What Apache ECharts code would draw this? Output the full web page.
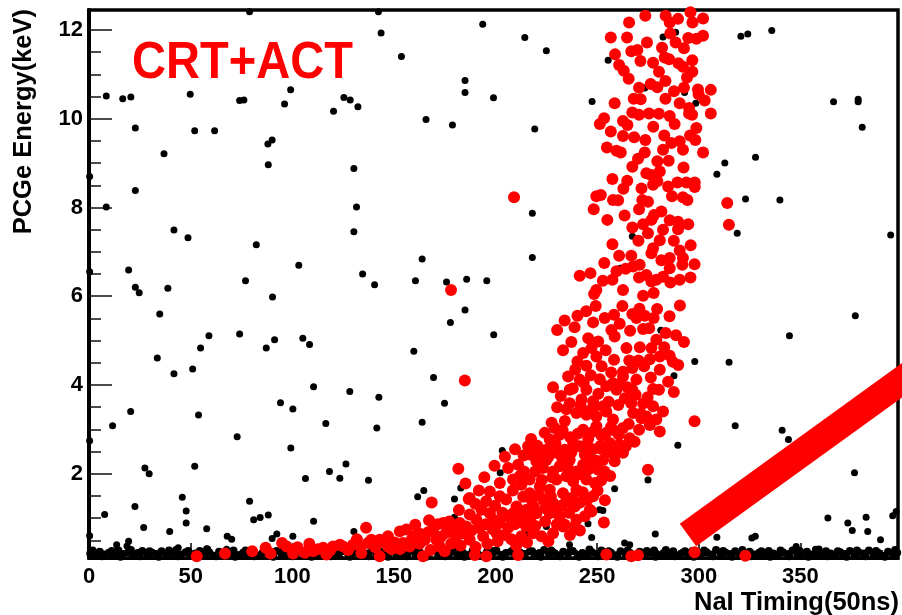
<!DOCTYPE html>
<html>
<head>
<meta charset="utf-8">
<script src="https://cdn.jsdelivr.net/npm/echarts@6/dist/echarts.min.js"></script>
<style>
  html, body { margin: 0; padding: 0; background: #fff; }
  #chart { width: 902px; height: 615px; }
</style>
</head>
<body>
<div id="chart"></div>
<script>
// Axis ticks
const xMajorTicks = [0, 50, 100, 150, 200, 250, 300, 350];
const xMinorTicks = [10, 20, 30, 40, 60, 70, 80, 90, 110, 120, 130, 140, 160, 170, 180, 190,
  210, 220, 230, 240, 260, 270, 280, 290, 310, 320, 330, 340, 360, 370, 380, 390];
const yMajorTicks = [2, 4, 6, 8, 10, 12];
const yMinorTicks = [0.5, 1, 1.5, 2.5, 3, 3.5, 4.5, 5, 5.5, 6.5, 7, 7.5, 8.5, 9, 9.5, 10.5, 11, 11.5];

// Uncorrelated events scattered over the whole plane (timing, energy)
const scatteredEvents = [
  [8.5,10.51],[16.6,10.45],[20.6,10.49],[49.8,10.55],[74.1,10.41],[76.2,10.42],[96.2,10.33],[22.8,9.79],
  [52,9.73],[61.8,9.73],[36.9,9.21],[88,9.43],[90.1,9.52],[88.2,8.96],[0.3,8.70],[22.8,8.38],[8.5,8.01],
  [41.8,7.49],[48.7,7.32],[82.3,7.16],[0.3,6.55],[19.5,6.59],[22.8,6.20],[38.8,6.18],[77,6.35],[79,12.41],
  [24.7,6.08],[90.3,5.98],[34.8,5.60],[59,5.11],[74.1,5.15],[54.9,4.83],[87.2,4.83],[91.3,5.02],[33.6,4.61],
  [41.8,4.25],[51,4.36],[94.2,3.60],[20.5,3.40],[11.6,3.08],[53.9,3.32],[0.3,2.74],[72.9,2.83],[27.5,2.13],
  [29.6,2.0],[52,2.17],[7.7,1.08],[22.6,1.26],[45.9,1.47],[47.8,1.16],[47.8,0.89],[26.9,0.79],[39.7,0.70],
  [57.9,0.76],[79,1.38],[81,0.96],[84.2,1.01],[88.2,1.07],[0.3,0.60],[13.6,0.40],[19.5,0.48],[18.7,0.37],
  [68,0.59],[70.2,0.52],[90.1,0.54],[92.4,0.64],
  [142.4,12.41],[143.7,11.93],[193.7,12.13],[153.7,11.40],[185,10.86],[185,10.59],[99.2,10.65],[125.4,10.48],
  [128.5,10.42],[132.3,10.27],[120.3,10.17],[165.8,9.98],[178.8,9.86],[130.3,8.88],[131.6,8.01],[130.3,7.45],
  [103.2,6.70],[163.9,6.84],[134.6,6.50],[140.5,6.26],[160.6,6.35],[175.9,6.32],[185.8,6.38],[195.7,6.35],
  [185,5.69],[177.8,5.41],[105.2,5.05],[108.5,4.91],[159.8,4.76],[169.5,4.17],[110.5,3.96],[128.3,3.85],
  [142.6,3.72],[174.9,3.59],[100.3,3.46],[116.5,3.13],[141.6,3.03],[163.9,3.16],[99.3,2.58],[126.4,2.22],
  [118.3,2.05],[123.4,1.90],[106.5,1.89],[137.5,1.85],[161.7,1.48],[164.7,1.62],[182.9,1.68],[179.8,1.43],
  [179.8,1.02],[110.5,0.93],[100.3,0.59],[130.3,0.70],[129.6,0.44],[203.3,2.52],[202.3,2.02],[216,0.66],
  [225,0.81],[236.4,0.40],[245.5,0.87],[247.3,0.56],[251.2,1.19],
  [214.4,11.83],[225,11.53],[199,10.47],[255.4,11.32],[282.4,11.84],[288.6,11.95],[247.5,10.39],[273.4,10.69],
  [293,10.59],[298.5,10.35],[219.3,9.77],[218.1,7.87],[267.3,7.35],[218.1,6.87],[261.4,6.63],
  [199.1,5.13],[265.5,5.21],[281.3,5.23],[298,4.53],[314.9,4.51],[287.8,4.21],
  [320.7,11.86],[324.1,11.91],[335.9,11.99],[366.3,10.38],[378.4,10.44],[378.4,10.38],[380.4,9.81],[327.9,9.13],
  [312.8,9.0],[308.9,8.75],[323,8.19],[339.9,8.17],[318.9,7.42],[394.4,7.38],[377,5.56],[344.6,5.11],
  [317.9,3.08],[341,2.98],[344.1,2.77],[289.7,2.64],[275,1.86],[376.6,2.02],[363.5,1.0],[373.3,0.89],
  [375.5,0.72],[382.3,1.02],[383.1,0.70],[389.4,0.51],[395.4,1.05],[397.1,1.15],[278.6,0.64],[263.5,0.44],
  [266,0.40],[308.9,0.57],[326.1,0.55],[327.8,0.59],[347.9,0.36],[357.4,0.30],[258.6,1.66],[252.8,1.17],
  [266.5,2.73],[43.9,0.33],[57.9,0.31],[67.7,0.30]
];

// Low-energy noise events piling up along the threshold
const thresholdEvents = [
  [0.6,0.20],[2.9,0.16],[5.3,0.24],[7.4,0.18],[9.8,0.22],[12.1,0.15],[14.5,0.27],[16.8,0.19],[19.3,0.23],
  [21.5,0.16],[24.0,0.21],[26.2,0.26],[28.7,0.17],[31.0,0.22],[33.4,0.19],[35.7,0.25],[38.1,0.15],[40.4,0.21],
  [42.9,0.28],[45.1,0.18],[47.6,0.23],[49.8,0.16],[52.3,0.20],[54.5,0.26],[57.0,0.19],[59.3,0.22],[61.7,0.15],
  [64.0,0.24],[66.4,0.18],[68.7,0.21],[71.1,0.27],[73.4,0.17],[75.8,0.22],[78.1,0.19],[80.6,0.25],[82.8,0.16],
  [85.3,0.21],[87.5,0.23],[90.0,0.17],[92.2,0.26],[94.7,0.20],[97.0,0.15],[99.4,0.22],[101.7,0.19],[104.1,0.25],
  [106.4,0.17],[108.8,0.21],[111.1,0.27],[113.5,0.16],[115.8,0.23],[118.2,0.19],[120.5,0.22],[122.9,0.15],
  [125.2,0.26],[127.6,0.18],[129.9,0.21],[132.3,0.24],[134.6,0.16],[137.0,0.20],[139.3,0.27],[141.7,0.18],
  [144.0,0.22],[146.4,0.15],[148.7,0.25],[151.1,0.19],[153.4,0.21],[155.8,0.17],[158.1,0.26],[160.5,0.20],
  [162.8,0.23],[165.2,0.16],[167.5,0.22],[169.9,0.28],[172.2,0.18],[174.6,0.21],[176.9,0.15],[179.3,0.24],
  [181.6,0.19],[184.0,0.22],[186.3,0.17],[188.7,0.26],[191.0,0.20],[193.4,0.15],[195.7,0.23],[198.1,0.19],
  [200.4,0.27],[202.8,0.17],[205.1,0.21],[207.5,0.24],[209.8,0.16],[212.2,0.22],[214.5,0.19],[216.9,0.25],
  [219.2,0.15],[221.6,0.21],[223.9,0.28],[226.3,0.18],[228.6,0.22],[231.0,0.16],[233.3,0.24],[235.7,0.20],
  [238.0,0.26],[240.4,0.17],[242.7,0.21],[245.1,0.15],[247.4,0.23],[249.8,0.19],[252.1,0.27],[254.5,0.18],
  [256.8,0.22],[259.2,0.16],[261.5,0.25],[263.9,0.20],[266.2,0.21],[268.6,0.15],[270.9,0.24],[273.3,0.18],
  [275.6,0.22],[278.0,0.27],[280.3,0.17],[282.7,0.21],[285.0,0.19],[287.4,0.25],[289.7,0.16],[292.1,0.22],
  [294.4,0.20],[296.8,0.26],[299.1,0.15],[301.5,0.21],[303.8,0.23],[306.2,0.18],[308.5,0.28],[310.9,0.17],
  [313.2,0.22],[315.6,0.19],[317.9,0.25],[320.3,0.16],[322.6,0.21],[325.0,0.24],[327.3,0.18],[329.7,0.22],
  [332.0,0.15],[334.4,0.26],[336.7,0.20],[339.1,0.17],[341.4,0.23],[343.8,0.19],[346.1,0.27],[348.5,0.16],
  [350.8,0.21],[353.2,0.24],[355.5,0.18],[357.9,0.22],[360.2,0.15],[362.6,0.25],[364.9,0.20],[367.3,0.17],
  [369.6,0.23],[372.0,0.19],[374.3,0.26],[376.7,0.16],[379.0,0.22],[381.4,0.20],[383.7,0.27],[386.1,0.18],
  [388.4,0.21],[390.8,0.15],[393.1,0.24],[395.5,0.19],[397.6,0.22],
  [1.8,0.27],[6.4,0.14],[11.2,0.26],[15.5,0.13],[20.6,0.28],[24.9,0.14],[29.8,0.25],[34.3,0.13],[39.4,0.27],
  [43.7,0.14],[48.8,0.26],[53.1,0.13],[58.2,0.29],[62.5,0.14],[67.6,0.25],[71.9,0.13],[77.0,0.27],[81.3,0.14],
  [86.4,0.26],[90.7,0.13],[95.8,0.28],[100.1,0.14],[105.2,0.25],[109.5,0.13],[114.6,0.27],[118.9,0.14],
  [124.0,0.26],[128.3,0.13],[133.4,0.29],[137.7,0.14],[142.8,0.25],[147.1,0.13],[152.2,0.27],[156.5,0.14],
  [161.6,0.26],[165.9,0.13],[171.0,0.28],[175.3,0.14],[180.4,0.25],[184.7,0.13],[189.8,0.27],[194.1,0.14],
  [199.2,0.26],[203.5,0.13],[208.6,0.28],[212.9,0.14],[218.0,0.25],[222.3,0.13],[227.4,0.27],[231.7,0.14],
  [236.8,0.26],[241.1,0.13],[246.2,0.29],[250.5,0.14],[255.6,0.25],[259.9,0.13],[265.0,0.27],[269.3,0.14],
  [274.4,0.26],[278.7,0.13],[283.8,0.28],[288.1,0.14],[293.2,0.25],[297.5,0.13],[302.6,0.27],[306.9,0.14],
  [312.0,0.26],[316.3,0.13],[321.4,0.28],[325.7,0.14],[330.8,0.25],[335.1,0.13],[340.2,0.27],[344.5,0.14],
  [349.6,0.26],[353.9,0.13],[359.0,0.29],[363.3,0.14],[368.4,0.25],[372.7,0.13],[377.8,0.27],[382.1,0.14],
  [387.2,0.26],[391.5,0.13],[396.6,0.28]
];

// Events tagged by both cosmic-ray and anti-Compton vetoes
const vetoTaggedEvents = [
  [53.0,0.14],[66.9,0.20],[80.3,0.25],[86.9,0.33],[89.3,0.20],[95.0,0.44],[97.2,0.36],[100.4,0.20],
  [106.2,0.22],[110.3,0.25],[115.2,0.33],[116.8,0.18],[120.1,0.36],[123.4,0.40],[125.0,0.36],[129.9,0.40],
  [134.0,0.21],[137.3,0.44],[138.9,0.51],[143.0,0.51],[143.0,0.14],[147.1,0.59],[147.1,0.36],[152.9,0.70],
  [154.5,0.44],[156.1,0.74],[157.8,0.36],[160.2,0.59],[161.9,0.67],[164.3,0.14],[165.2,0.51],[169.3,0.74],
  [170.9,0.51],[174.2,0.89],[175.0,0.25],[175.8,0.67],[172.5,0.36],
  [136.3,0.78],[168.6,1.35],[178.1,6.14],[184.9,4.10],[181.7,2.11],[186.8,1.43],[209.1,8.23],
  [189.8,0.17],[195.5,0.14],[211.1,0.17],[254.5,0.18],[266.8,0.14],[270.1,0.16],[297.9,0.23],[322.9,0.15],
  [297.9,3.18],[275.0,2.09],[253.3,0.90],[314,8.10],[314.8,7.61],
  [295.9,12.40],[283.7,12.32],[273.7,12.32],[265.7,12.17],[285.7,12.17],[289.8,12.25],[296.9,12.17],[302.1,12.26],
  [256.7,11.83],[264.7,11.83],[286.0,11.92],[298.8,11.80],[302.1,11.87],[269.8,11.55],[281.9,11.60],[292.7,11.59],
  [271.3,11.30],[277.5,11.26],[283.2,11.38],[285.4,11.34],[290.0,11.25],[296.8,11.32],[260.8,11.21],[263.1,11.08],
  [280.4,11.06],[292.2,11.17],[296.8,11.06],[294.2,10.93],[265.5,10.90],[283.6,10.85],[270.6,10.70],[276.3,10.78],
  [279.6,10.71],[292.7,10.70],[299.6,10.66],[305.9,10.65],[299.9,10.55],[271.4,10.44],[283.6,10.45],[290.6,10.35],
  [295.2,10.24],[302.9,10.41],[305.9,10.12],[267.3,10.14],[270.6,10.09],[275.5,10.12],[280.4,10.11],[285.7,10.06],
  [288.1,9.88],[295.2,10.12],[296.7,10.09],[253.4,10.01],[251.3,9.88],[262.7,9.95],[264.9,9.86],[256.7,9.71],
  [262.7,9.61],[298.8,9.79],[298.3,9.52],[302.1,9.24],[273.7,9.52],[286.5,9.45],[290.6,9.49],[292.2,9.30],
  [282.4,9.30],[259.5,9.28],[261.6,9.24],[273.4,9.24],[279.6,9.04],[267.3,8.92],[257.5,8.64],[274.2,8.77],
  [276.7,8.73],[280.8,8.81],[279.6,8.59],[271.8,8.43],[277.5,8.51],[284.9,8.47],[289.5,8.56],[293.9,8.56],
  [298.0,8.56],[298.0,8.46],[251.8,8.28],[249.6,8.25],[257.8,8.17],[260.3,8.16],[272.2,8.17],[275.0,8.13],
  [270.6,7.96],[292.2,8.23],[294.4,8.17],[248.3,7.96],[278.0,7.83],[281.6,7.91],[276.7,7.72],[285.7,7.71],
  [289.8,7.68],[282.4,7.50],[289.8,7.51],[267.3,7.55],[280.8,7.26],[287.7,7.25],[257.5,7.17],[266.8,6.91],
  [276.7,6.97],[277.5,7.08],[260.8,6.91],[290.6,7.03],[292.2,6.86],[291.9,6.71],[281.6,6.81],[285.7,6.86],
  [267.7,6.67],[270.9,6.71],[285.7,6.63],[259.5,6.56],[241.4,6.46],[246.7,6.52],[270.6,6.42],[274.2,6.48],
  [276.7,6.33],[279.1,6.37],[282.4,6.44],[286.0,6.31],[290.6,6.37],[295.9,6.42],[257.5,6.37],[262.7,6.14],
  [249.6,6.14],[248.5,6.05],[272.6,6.01],[277.8,6.07],
  [249.3,5.78],[240.3,5.56],[248.0,5.41],[253.7,5.51],[258.3,5.58],[261.1,5.38],[257.0,5.24],[258.6,5.09],
  [267.3,5.60],[269.3,5.51],[273.4,5.56],[277.8,5.51],[279.5,5.71],[272.6,5.26],[283.7,5.17],[279.1,5.02],
  [276.7,4.83],[275.9,4.58],[280.8,4.64],[285.7,4.66],[292.7,4.97],[230.3,5.24],[237.3,4.97],[233.2,4.78],
  [243.1,4.72],[247.2,4.83],[254.2,4.78],[264.4,4.83],[240.3,4.53],[244.7,4.43],[249.6,4.64],[258.3,4.57],
  [267.3,4.38],[262.7,4.30],[273.1,4.42],[276.4,4.17],[280.8,4.34],[284.9,4.07],[287.7,3.84],[280.4,3.89],
  [277.5,3.91],[269.3,4.12],[267.3,3.89],[235.7,4.19],[236.5,3.89],[228.3,3.95],[241.4,4.12],[244.7,3.89],
  [251.3,4.13],[254.5,3.97],[257.8,4.04],[262.7,4.19],[259.5,3.89],[263.6,3.70],[266.8,3.59],[236.5,3.59],
  [242.3,3.67],[248.0,3.63],[239.8,3.37],[244.7,3.33],[248.0,3.48],[252.9,3.52],[230.3,3.50],[234.1,3.19],
  [229.1,3.03],[243.1,2.99],[249.6,3.29],[254.5,3.40],[267.7,3.37],[272.6,3.58],[277.5,3.52],[282.4,3.40],
  [274.2,3.29],[275.9,3.10],[279.1,3.22],[280.8,2.95],[270.6,2.99],[266.0,2.80],[257.8,3.22],[259.5,2.95],
  [262.7,3.03],[252.1,2.86],[254.5,2.92],[249.6,3.07],[256.2,2.69],[261.1,2.65],[262.7,2.47],[258.6,2.28],
  [259.5,2.47],[252.9,2.31],[250.5,2.09],[246.4,2.35],[243.1,2.20],[244.7,1.87],[248.8,1.79],[248.0,1.49],
  [246.4,1.19],[231.6,2.88],[226.7,2.77],[225.0,2.54],[221.8,2.47],[216.0,2.62],[216.8,2.43],[220.1,2.28],
  [223.4,2.13],[225.0,2.31],[230.0,2.47],[234.1,2.54],[238.2,2.69],[241.4,2.62],[243.9,2.43],[236.5,2.31],
  [231.6,2.17],[228.3,2.05],[234.9,1.94],[230.0,1.87],[238.2,1.83],[239.8,1.64],[233.2,1.56],[226.7,1.64],
  [221.8,1.71],[216.8,1.56],[217.7,1.41],[223.4,1.41],[228.3,1.34],[234.9,1.38],[239.0,1.26],[226.7,1.11],
  [231.6,1.04],[220.1,1.11],[215.2,1.19],[210.3,1.26],[208.6,1.11],[211.9,0.96],[206.2,1.04],[202.1,0.89],
  [198.8,0.96],[197.2,1.11],[190.6,0.96],[187.3,1.08],[182.4,0.89],[184.1,0.66],[179.1,0.74],[187.3,0.51],
  [193.9,0.59],[200.5,0.66],[206.2,0.78],[212.7,0.59],[218.5,0.66],[222.6,0.59],[228.3,0.66],[234.1,0.85],
  [239.8,0.96],[243.9,1.04],[239.0,0.81],[233.2,0.81],[247.2,1.15],[202.1,1.79],[197.2,1.60],[202.1,1.49],
  [206.2,2.13],[211.1,2.20],[211.9,1.94],[216.8,1.87],[212.7,1.75],[208.6,1.87],[193.1,1.19],[187.3,1.45],
  [219.5,2.05],[222.8,1.86],[226.0,2.38],[227.9,1.92],[229.5,2.68],[232.8,2.35],[235.6,2.12],[237.4,2.49],
  [239.9,2.05],[242.2,1.98],[244.0,2.62],[245.8,2.10],[247.9,2.55],[249.2,2.30],[251.7,2.63],[253.6,2.05],
  [255.2,2.48],[218.9,1.25],[221.4,1.52],[224.6,1.22],[227.2,1.49],[229.8,1.18],[232.2,1.28],[236.2,1.12],
  [237.8,1.46],[241.6,1.35],[242.9,1.58],[245.2,1.42],[250.2,1.62],[252.0,1.85],[253.8,1.40],[256.4,1.95],
  [213.8,2.41],[217.5,2.78],[220.6,2.63],[224.2,2.92],[227.6,3.15],[233.0,2.98],[236.8,2.82],[240.5,2.90],
  [245.6,2.78],[248.2,2.95],[251.8,2.56],[256.8,3.05],[258.2,2.62],[260.7,2.88],[264.1,2.62],[265.5,3.12],
  [268.4,2.72],[271.8,3.25],
  [232.1,3.75],[234.9,3.45],[238.0,3.92],[239.2,4.35],[241.8,3.55],[243.4,4.05],[246.2,3.42],[246.9,4.22],
  [250.6,3.80],[252.2,4.42],[255.6,3.62],[256.9,4.28],[260.4,3.55],[261.3,4.02],[264.9,3.95],[265.8,4.55],
  [268.9,3.78],[270.3,4.55],[271.5,3.35],[274.8,3.72],[271.0,4.85],[250.5,4.98],[245.6,5.05],[238.9,5.30],
  [234.0,5.45],[244.6,5.66],[262.4,5.78],[266.2,5.22],[270.8,5.72],[275.6,5.28],[285.6,5.55],[288.8,5.12],
  [289.9,4.45],[290.7,5.79],[283.0,4.85],[287.2,4.52],
  [178.2,0.42],[180.6,0.58],[182.8,0.38],[185.6,0.81],[188.2,0.72],[190.2,0.35],[192.0,0.78],[195.2,0.86],
  [196.0,0.42],[198.6,0.75],[201.0,0.48],[203.4,1.12],[204.5,0.62],[207.8,0.52],[209.5,0.86],[213.8,1.12],
  [214.9,0.82],[217.2,1.02],[210.2,0.38],[215.5,0.45],[219.6,0.82],[224.4,0.92],[226.0,0.48],[230.2,0.86],
  [236.6,0.62],[241.5,0.72],[182.0,1.18],[190.0,1.32],[195.4,1.38],[199.8,1.28],[205.2,1.42],[208.5,1.62],
  [213.6,1.48],[185.2,1.78],[191.8,1.62],[194.5,1.92],[199.5,2.18],[204.6,2.38],[209.6,2.55],[214.0,2.05],
  [150.4,0.45],[158.8,0.52],[162.6,0.42],[166.8,0.68],[168.0,0.28],[171.6,0.86],[177.2,0.92],[173.2,0.58],
  [167.3,0.95],[160.5,0.85],[148.8,0.30],[153.0,0.30],
  [102.6,0.34],[108.4,0.42],[112.6,0.30],[118.6,0.27],[127.5,0.28],[131.8,0.52],[133.6,0.36],[140.8,0.34],
  [145.2,0.45],
  [258.8,11.45],[266.8,11.52],[274.5,11.72],[288.6,11.72],[294.8,11.82],[268.0,10.45],[287.8,10.62],[258.6,10.35],
  [254.8,9.35],[268.2,9.58],[277.6,9.82],[283.0,9.62],[295.7,9.62],[270.1,9.10],[285.2,9.05],[292.5,8.90],
  [264.8,8.60],[286.8,8.25],[262.9,8.42],[255.0,7.72],[263.5,7.82],[272.6,7.62],[294.8,7.62],[270.3,7.25],
  [275.0,7.42],[296.0,7.15],[253.5,6.75],[264.0,6.62],[297.9,6.72],[252.8,6.35]
];

const FONT = '"Liberation Sans", Arial, Helvetica, sans-serif';
const X_MIN = 0, X_MAX = 398;
const Y_MIN = 0.1, Y_MAX = 12.45;

const chart = echarts.init(document.getElementById('chart'), null, { renderer: 'canvas' });

const tickLabel = { fontFamily: FONT, fontSize: 22, fontWeight: 'bold', color: '#000' };

chart.setOption({
  animation: false,
  backgroundColor: '#fff',
  grid: {
    left: 89, right: 4, top: 10, bottom: 57,
    show: true, borderColor: '#000', borderWidth: 3.5, backgroundColor: 'transparent'
  },
  xAxis: [
    {
      type: 'value', min: X_MIN, max: X_MAX, position: 'bottom',
      axisLine: { show: true, onZero: false, lineStyle: { color: '#000', width: 3 } },
      axisTick: { show: true, inside: true, length: 15, customValues: xMajorTicks, lineStyle: { color: '#000', width: 1.5 } },
      axisLabel: Object.assign({ customValues: xMajorTicks, margin: 8 }, tickLabel),
      splitLine: { show: false }
    },
    {
      type: 'value', min: X_MIN, max: X_MAX, position: 'bottom',
      axisLine: { show: false },
      axisTick: { show: true, inside: true, length: 8, customValues: xMinorTicks, lineStyle: { color: '#000', width: 1.5 } },
      axisLabel: { show: false },
      splitLine: { show: false }
    }
  ],
  yAxis: [
    {
      type: 'value', min: Y_MIN, max: Y_MAX, position: 'left',
      axisLine: { show: true, onZero: false, lineStyle: { color: '#000', width: 4 } },
      axisTick: { show: true, inside: true, length: 23, customValues: yMajorTicks, lineStyle: { color: '#111', width: 1.5 } },
      axisLabel: Object.assign({ customValues: yMajorTicks, margin: 6 }, tickLabel),
      splitLine: { show: false }
    },
    {
      type: 'value', min: Y_MIN, max: Y_MAX, position: 'left',
      axisLine: { show: false },
      axisTick: { show: true, inside: true, length: 12, customValues: yMinorTicks, lineStyle: { color: '#111', width: 1.5 } },
      axisLabel: { show: false },
      splitLine: { show: false }
    }
  ],
  series: [
    {
      name: 'threshold', type: 'scatter', data: thresholdEvents,
      symbol: 'circle', symbolSize: 8, itemStyle: { color: '#000', opacity: 1 }, silent: true, z: 2
    },
    {
      name: 'all events', type: 'scatter', data: scatteredEvents,
      symbol: 'circle', symbolSize: 7, itemStyle: { color: '#000', opacity: 1 }, silent: true, z: 2
    },
    {
      name: 'CRT+ACT', type: 'scatter', data: vetoTaggedEvents,
      symbol: 'circle', symbolSize: 12, itemStyle: { color: '#ff0000', opacity: 1 }, silent: true, z: 3
    }
  ],
  graphic: [
    {
      type: 'text', x: 132, y: 64, scaleX: 0.905, z: 50,
      style: { text: 'CRT+ACT', fill: '#ff0000', font: 'bold 52px "Comic Sans MS", ' + FONT,
               align: 'left', verticalAlign: 'middle' }
    },
    {
      type: 'text', x: 24, y: 9, rotation: Math.PI / 2, z: 50,
      style: { text: 'PCGe Energy(keV)', fill: '#000', font: 'bold 25.5px ' + FONT,
               align: 'right', verticalAlign: 'middle' }
    },
    {
      type: 'text', x: 899, y: 603, z: 50,
      style: { text: 'NaI Timing(50ns)', fill: '#000', font: 'bold 25.5px ' + FONT,
               align: 'right', verticalAlign: 'middle' }
    },
    {
      // highlight stroke across the lower-right corner
      type: 'line', z: 60,
      shape: { x1: 688, y1: 535, x2: 912, y2: 373 },
      style: { stroke: '#ff0000', lineWidth: 28, lineCap: 'butt' }
    }
  ]
});
</script>
</body>
</html>
